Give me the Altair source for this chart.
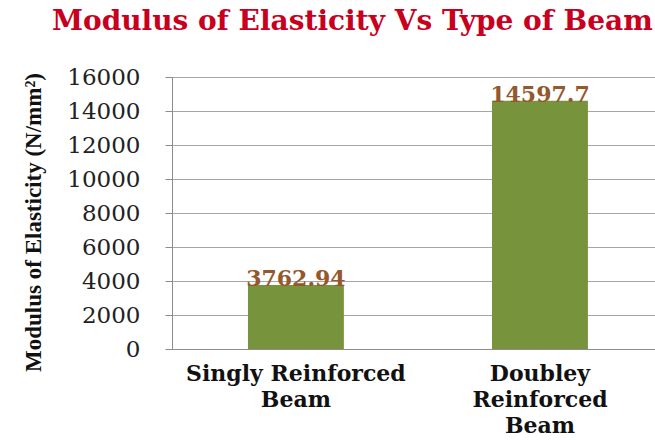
import altair as alt
import pandas as pd

# Beam types (with "|" marking line breaks in the axis labels) and measured modulus
beam_types = ["Singly Reinforced|Beam", "Doubley|Reinforced|Beam"]
modulus = [3762.94, 14597.7]
y_ticks = [0, 2000, 4000, 6000, 8000, 10000, 12000, 14000, 16000]

df = pd.DataFrame({"beam": beam_types, "modulus": modulus})

SERIF = "DejaVu Serif"

x_enc = alt.X(
    "beam:N",
    sort=beam_types,
    scale=alt.Scale(paddingInner=0.607, paddingOuter=0.293, align=0.531),
    axis=alt.Axis(
        title=None,
        labelExpr="split(datum.value, '|')",
        labelAngle=0,
        labelFont=SERIF,
        labelFontWeight="bold",
        labelFontSize=22,
        labelColor="#111111",
        labelLineHeight=26,
        labelBaseline="top",
        labelPadding=14,
        labelLimit=0,
        ticks=False,
        domain=True,
        domainColor="#8c8c8c",
        grid=False,
    ),
)

y_enc = alt.Y(
    "modulus:Q",
    scale=alt.Scale(domain=[0, 16000], nice=False),
    axis=alt.Axis(
        values=y_ticks,
        format="d",
        labelOverlap=False,
        title="Modulus of Elasticity (N/mm²)",
        titleFont="Liberation Serif",
        titleFontWeight="bold",
        titleFontSize=23,
        titleColor="#111111",
        titleAngle=270,
        titleAlign="center",
        titleBaseline="middle",
        titleX=-139,
        titleY=145,
        labelFont=SERIF,
        labelFontSize=23,
        labelColor="#222222",
        labelPadding=25,
        tickSize=7,
        tickColor="#8c8c8c",
        domainColor="#8c8c8c",
        grid=True,
        gridColor="#a6a6a6",
        gridWidth=1,
    ),
)

bars = alt.Chart(df).mark_bar(color="#77933C").encode(x=x_enc, y=y_enc)

labels = alt.Chart(df).mark_text(
    baseline="alphabetic",
    align="center",
    dy=1,
    font=SERIF,
    fontWeight="bold",
    fontSize=22,
    color="#94582C",
).encode(
    x=x_enc,
    y=y_enc,
    text=alt.Text("modulus:Q", format="~f"),
)

chart = (
    alt.layer(bars, labels)
    .properties(
        width=483,
        height=272,
        autosize=alt.AutoSizeParams(type="none"),
        padding={"left": 172, "top": 77, "right": 0, "bottom": 91},
        title=alt.TitleParams(
            "Modulus of Elasticity Vs Type of Beam",
            font=SERIF,
            fontWeight="bold",
            fontSize=28,
            color="#C8001E",
            anchor="start",
            frame="group",
            dx=-120,
            offset=30,
        ),
    )
    .configure_view(stroke=None)
    .configure(background="white")
)

chart.save("out.html", embed_options={"renderer": "svg", "actions": False})
